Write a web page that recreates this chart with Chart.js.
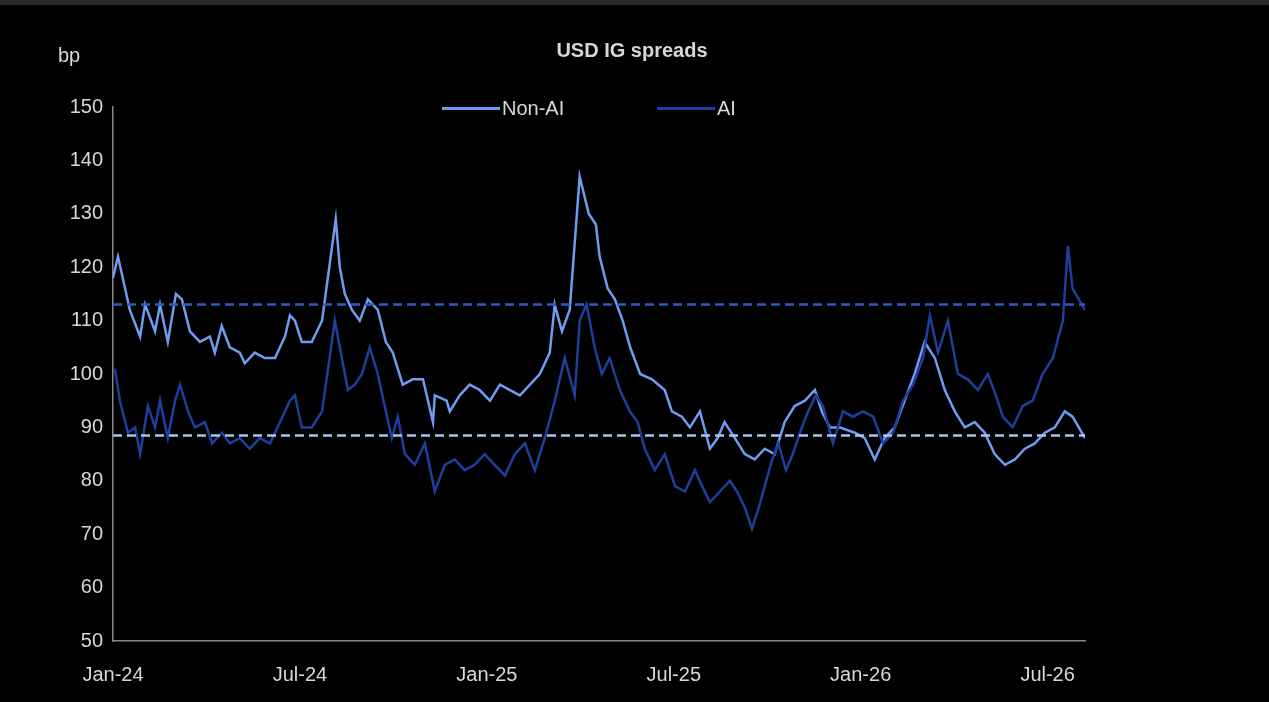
<!DOCTYPE html>
<html><head><meta charset="utf-8">
<script src="https://cdn.jsdelivr.net/npm/chart.js@4"></script>
<style>
html,body{margin:0;padding:0;background:#000;width:1269px;height:702px;overflow:hidden;font-family:Arial,"Liberation Sans",sans-serif;}
#top{position:absolute;left:0;top:0;width:1269px;height:5px;background:#2a2a2a;}
#wrap{position:absolute;left:0;top:0;width:1269px;height:702px;}
.t{position:absolute;color:#d8d8d8;font-size:20px;}
#title{left:0;width:1264px;top:39px;text-align:center;font-weight:bold;}
#bp{left:58px;top:44px;}
.lg{position:absolute;top:97px;color:#d8d8d8;font-size:20px;display:flex;align-items:center;}
.lg span{display:inline-block;width:58px;height:3px;margin-right:2px;}
</style></head><body>
<div id="wrap"><canvas id="c" width="1269" height="702"></canvas></div>
<div id="top"></div>
<div class="t" id="title">USD IG spreads</div>
<div class="t" id="bp">bp</div>
<div class="lg" style="left:442px"><span style="background:#6f9cf0"></span>Non-AI</div>
<div class="lg" style="left:657px"><span style="background:#1f3f9c"></span>AI</div>
<script>
const tickLabels = ["Jan-24","Jul-24","Jan-25","Jul-25","Jan-26","Jul-26"];
// x positions in months since Jan-24
const nonAiX = [0,0.16,0.54,0.87,1.03,1.35,1.51,1.76,2.02,2.21,2.47,2.79,3.11,3.27,3.49,3.75,4.07,4.23,4.55,4.87,5.2,5.52,5.68,5.84,6.06,6.38,6.71,7.15,7.28,7.44,7.67,7.92,8.18,8.5,8.76,8.98,9.3,9.62,9.95,10.27,10.33,10.71,10.81,11.13,11.45,11.77,12.1,12.42,13.06,13.7,14.02,14.18,14.41,14.66,14.98,15.27,15.5,15.62,15.88,16.11,16.36,16.6,16.92,17.3,17.71,17.94,18.26,18.52,18.84,19.16,19.41,19.63,19.96,20.28,20.6,20.92,21.24,21.56,21.88,22.21,22.53,22.75,23.01,23.33,23.81,24.13,24.45,24.77,25.09,25.41,25.73,26.05,26.38,26.7,27.02,27.34,27.66,27.98,28.3,28.63,28.95,29.27,29.59,29.91,30.23,30.55,30.8,31.2];
const nonAiY = [118,122,112,107,113,108,113,106,115,114,108,106,107,104,109,105,104,102,104,103,103,107,111,110,106,106,110,129,120,115,112,110,114,112,106,104,98,99,99,91,96,95,93,96,98,97,95,98,96,100,104,113,108,112,137,130,128,122,116,114,110,105,100,99,97,93,92,90,93,86,88,91,88,85,84,86,85,91,94,95,97,93,90,90,89,88,84,88,90,95,100,106,103,97,93,90,91,89,85,83,84,86,87,89,90,93,92,88];
const aiX = [0.06,0.22,0.48,0.71,0.87,1.12,1.35,1.51,1.76,1.99,2.15,2.41,2.63,2.95,3.18,3.5,3.75,4.07,4.39,4.71,5.04,5.36,5.68,5.84,6.06,6.38,6.71,7.12,7.28,7.54,7.76,7.99,8.24,8.5,8.72,8.95,9.14,9.37,9.69,10.01,10.33,10.65,10.97,11.29,11.61,11.93,12.25,12.58,12.9,13.22,13.54,13.86,14.18,14.5,14.82,14.98,15.2,15.46,15.69,15.94,16.27,16.59,16.84,17.07,17.39,17.71,18.04,18.36,18.68,18.91,19.16,19.48,19.8,20.03,20.28,20.51,20.73,20.92,21.16,21.36,21.6,21.82,22.05,22.31,22.56,22.79,23.11,23.43,23.75,24.07,24.4,24.72,25.04,25.36,25.68,26.0,26.22,26.48,26.8,27.12,27.44,27.76,28.08,28.34,28.56,28.88,29.2,29.52,29.84,30.17,30.49,30.65,30.8,31.2];
const aiY = [101,95,89,90,85,94,90,95,88,95,98,93,90,91,87,89,87,88,86,88,87,91,95,96,90,90,93,110,105,97,98,100,105,100,94,88,92,85,83,87,78,83,84,82,83,85,83,81,85,87,82,88,95,103,96,110,113,105,100,103,97,93,91,86,82,85,79,78,82,79,76,78,80,78,75,71,75,79,84,87,82,85,89,93,96,94,87,93,92,93,92,87,89,95,98,103,111,104,110,100,99,97,100,96,92,90,94,95,100,103,110,124,116,112];
const upperRef = 113, lowerRef = 88.5;
const lightBlue = '#6f9cf0', darkBlue = '#1f3f9c';
const pts = (xs, ys) => xs.map((x, i) => ({x, y: ys[i]}));
const xMax = 31.2;
new Chart(document.getElementById('c'), {
  type: 'line',
  data: { datasets: [
    {label:'upper', data:[{x:0,y:upperRef},{x:xMax,y:upperRef}], borderColor:'#2f5bc0', borderDash:[9,5], borderWidth:2.5, pointRadius:0},
    {label:'lower', data:[{x:0,y:lowerRef},{x:xMax,y:lowerRef}], borderColor:'#a9c3f2', borderDash:[9,5], borderWidth:2.5, pointRadius:0},
    {label:'AI', data:pts(aiX, aiY), borderColor:darkBlue, borderWidth:2.5, pointRadius:0, tension:0},
    {label:'Non-AI', data:pts(nonAiX, nonAiY), borderColor:lightBlue, borderWidth:2.5, pointRadius:0, tension:0}
  ]},
  options: {
    responsive:false, animation:false,
    layout:{padding:{left:0,right:184,top:107,bottom:0}},
    plugins:{legend:{display:false},tooltip:{enabled:false}},
    scales:{
      x:{type:'linear',min:0,max:xMax,
        afterFit:s=>{s.height=61;},
        afterBuildTicks:s=>{s.ticks=[0,6,12,18,24,30].map(v=>({value:v}));},
        grid:{display:false,drawTicks:true,tickLength:6,color:'#888'},
        border:{color:'#888',width:1.5},
        ticks:{color:'#d8d8d8',font:{size:20,family:'Arial'},maxRotation:0,padding:16,callback:(v)=>tickLabels[Math.round(v/6)]}},
      y:{min:50,max:150,
        afterFit:s=>{s.width=113;},
        grid:{display:false,drawTicks:true,tickLength:6,color:'#888'},
        border:{color:'#888',width:1.5},
        ticks:{stepSize:10,color:'#d8d8d8',font:{size:20,family:'Arial'},padding:4}}
    }
  }
});
</script></body></html>
